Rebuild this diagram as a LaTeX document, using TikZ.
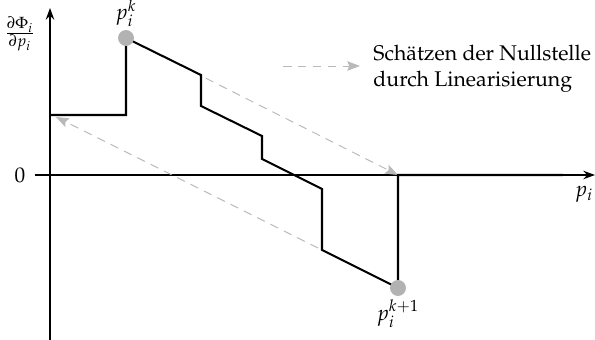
\documentclass[tikz,border=0pt]{standalone}
\usepackage[T1]{fontenc}
\usepackage{mathpazo}
\usetikzlibrary{arrows.meta,positioning}

\tikzset{
  axis/.style={line width=0.55pt, -{Stealth[length=5.5pt,width=4pt]}},
  curve/.style={line width=0.95pt, line join=miter},
  estimate/.style={draw=gray!55, line width=0.45pt, dash pattern=on 4pt off 3pt,
    -{Stealth[length=6pt,width=4.5pt,inset=1pt,fill=gray!55]}},
  marker/.style={circle, fill=gray!60, inner sep=0pt, minimum size=7.5pt}
}

\begin{document}
\begin{tikzpicture}[x=0.47pt,y=-0.47pt]
	\useasboundingbox (0,0) rectangle (595,340);
	% axes
	\coordinate (xstart) at (35,175);
	\coordinate (xend) at (595,175);
	\coordinate (ystart) at (50,340);
	\coordinate (yend) at (50,8);
	\draw[axis] (xstart) -- (xend);
	\draw[axis] (ystart) -- (yend);
	\node[left=1pt of xstart] (zero) {$0$};
	\node (xlabel) at (584,194) {$p_i$};
	\node (ylabel) at (20,34) {$\frac{\partial\Phi_i}{\partial p_i}$};
	% points of the step function
	\coordinate (c0) at (50,115);
	\coordinate (c1) at (126,115);
	\coordinate (pk) at (126,38);
	\coordinate (c3) at (201,75);
	\coordinate (c4) at (201,106);
	\coordinate (c5) at (262,136);
	\coordinate (c6) at (262,159);
	\coordinate (c7) at (322,189);
	\coordinate (c8) at (322,250);
	\coordinate (pkk) at (398,288);
	\coordinate (c10) at (398,175);
	\coordinate (c11) at (563,175);
	\coordinate (back) at (56,117);
	% linearisation
	\draw[estimate] (pk) -- (c10);
	\draw[estimate] (pkk) -- (back);
	\draw[curve] (c0) -- (c1) -- (pk) -- (c3) -- (c4) -- (c5) -- (c6) -- (c7) -- (c8) -- (pkk) -- (c10) -- (c11);
	\node[marker] (mk) at (pk) {};
	\node[marker] (mkk) at (pkk) {};
	\node[above=1pt of mk, inner sep=0pt] (lk) {$p_i^k$};
	\node[below=-2pt of mkk] (lkk) {$p_i^{k+1}$};
	% legend
	\coordinate (legA) at (283,66);
	\coordinate (legB) at (360,66);
	\draw[estimate] (legA) -- (legB);
	\node[anchor=west, align=left, inner sep=0pt] (legend) at (373,69) {Sch\"atzen der Nullstelle\\durch Linearisierung};
\end{tikzpicture}
\end{document}
